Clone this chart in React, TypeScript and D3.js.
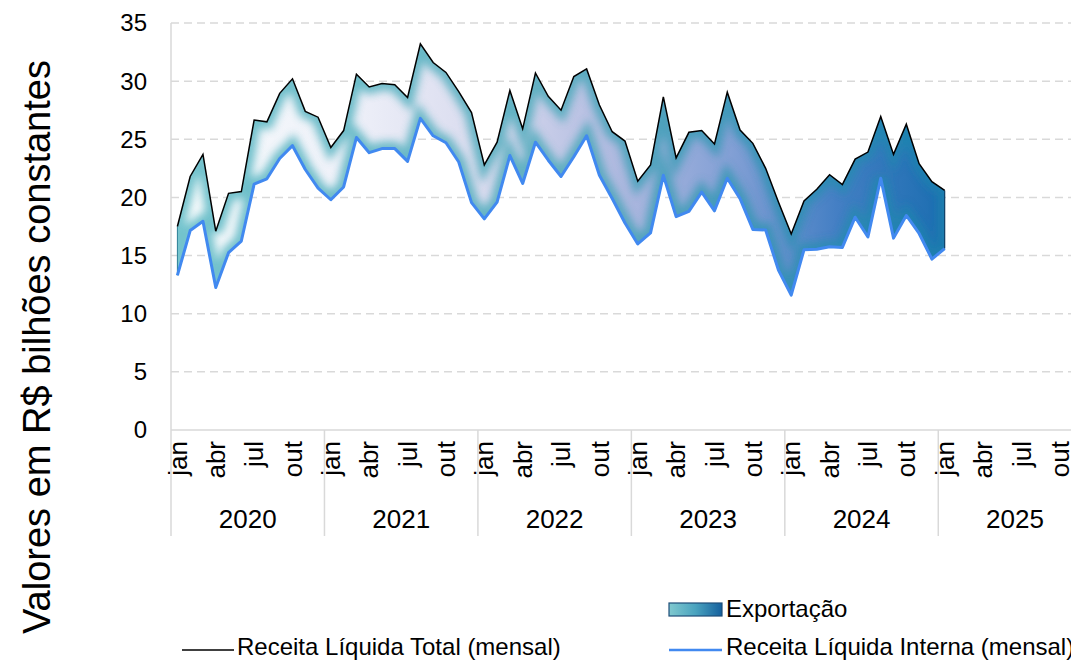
import React from "react";
import * as d3 from "d3";

const years = [2020, 2021, 2022, 2023, 2024, 2025];
const monthNames = ["jan", "fev", "mar", "abr", "mai", "jun", "jul", "ago", "set", "out", "nov", "dez"];
const shownMonths = ["jan", "abr", "jul", "out"];
const yTicks = [0, 5, 10, 15, 20, 25, 30, 35];

// Receita Líquida Total (mensal), jan/2020 .. jan/2025
const receitaTotal = [
  17.5, 21.8, 23.7, 17.1, 20.35, 20.5, 26.65, 26.5, 28.95, 30.2, 27.4, 26.9,
  24.3, 25.75, 30.6, 29.5, 29.8, 29.7, 28.6, 33.2, 31.6, 30.75, 29.1, 27.3,
  22.8, 24.75, 29.2, 25.9, 30.7, 28.7, 27.5, 30.4, 31.05, 27.95, 25.65, 24.85,
  21.4, 22.8, 28.65, 23.4, 25.6, 25.75, 24.6, 29.05, 25.8, 24.65, 22.5, 19.6,
  16.85, 19.7, 20.7, 21.95, 21.1, 23.3, 23.9, 26.95, 23.7, 26.3, 22.9, 21.35,
  20.6,
];

// Receita Líquida Interna (mensal)
const receitaInterna = [
  13.3, 17.15, 17.95, 12.25, 15.25, 16.25, 21.15, 21.6, 23.35, 24.45, 22.4, 20.8,
  19.8, 20.9, 25.15, 23.85, 24.2, 24.2, 23.1, 26.8, 25.3, 24.7, 23.05, 19.55,
  18.15, 19.6, 23.6, 21.2, 24.75, 23.2, 21.8, 23.5, 25.3, 21.9, 19.9, 17.8,
  16.0, 16.95, 21.9, 18.35, 18.8, 20.45, 18.85, 21.65, 19.9, 17.25, 17.2, 13.75,
  11.6, 15.5, 15.55, 15.75, 15.7, 18.3, 16.6, 21.65, 16.5, 18.45, 16.9, 14.7,
  15.6,
];

const W = 1071;
const H = 661;
const plotLeft = 171;
const monthW = 12.788;
const plotTop = 23;
const plotBottom = 430;
const plotRight = 1071;

const FONT = "'Liberation Sans', Arial, sans-serif";

export default function App() {
  const categories: string[] = [];
  years.forEach((y) => monthNames.forEach((m) => categories.push(`${m}-${y}`)));

  const x = d3
    .scaleBand<string>()
    .domain(categories)
    .range([plotLeft, plotLeft + monthW * categories.length])
    .padding(0);
  const bw = x.bandwidth();
  const cx = (i: number) => (x(categories[i]) as number) + bw / 2;

  const y = d3.scaleLinear().domain([0, 35]).range([plotBottom, plotTop]);

  const idx = receitaTotal.map((_, i) => i);
  const area = d3
    .area<number>()
    .x((i) => cx(i))
    .y0((i) => y(receitaInterna[i]))
    .y1((i) => y(receitaTotal[i]))
    .curve(d3.curveLinear);
  const areaPath = area(idx) || "";

  const lineTotal = d3
    .line<number>()
    .x((i) => cx(i))
    .y((i) => y(receitaTotal[i]))(idx) || "";
  const lineInterna = d3
    .line<number>()
    .x((i) => cx(i))
    .y((i) => y(receitaInterna[i]))(idx) || "";

  const x0 = cx(0);
  const x1 = cx(idx.length - 1);

  return (
    <svg
      width={W}
      height={H}
      style={{ position: "absolute", left: 0, top: 0, background: "#fff" }}
      fontFamily={FONT}
    >
      <defs>
        <linearGradient id="fillGrad" gradientUnits="userSpaceOnUse" x1={x0} x2={x1} y1={0} y2={0}>
          <stop offset="0" stopColor="#f6fbfc" />
          <stop offset="0.22" stopColor="#eff1f9" />
          <stop offset="0.42" stopColor="#d6d8ed" />
          <stop offset="0.58" stopColor="#adb8df" />
          <stop offset="0.72" stopColor="#83a0d5" />
          <stop offset="0.86" stopColor="#447fc4" />
          <stop offset="1" stopColor="#1c6eb1" />
        </linearGradient>
        <linearGradient id="edgeGrad" gradientUnits="userSpaceOnUse" x1={x0} x2={x1} y1={0} y2={0}>
          <stop offset="0" stopColor="#5cb9c4" />
          <stop offset="0.5" stopColor="#4eaabb" />
          <stop offset="1" stopColor="#1a80ae" />
        </linearGradient>
        <linearGradient id="legGrad" x1="0" x2="1" y1="0" y2="0">
          <stop offset="0" stopColor="#80c9cf" />
          <stop offset="0.5" stopColor="#4aa3bf" />
          <stop offset="1" stopColor="#15609e" />
        </linearGradient>
        <clipPath id="areaClip">
          <path d={areaPath} />
        </clipPath>
        <filter id="blur" x="-10%" y="-10%" width="120%" height="120%">
          <feGaussianBlur stdDeviation="4" />
        </filter>
      </defs>

      {/* grid lines */}
      {yTicks.map((t) =>
        t === 0 ? null : (
          <line
            key={t}
            x1={plotLeft}
            x2={plotRight}
            y1={y(t)}
            y2={y(t)}
            stroke="#d9d9d9"
            strokeWidth={1.5}
            strokeDasharray="8,5"
          />
        )
      )}
      {/* axes */}
      <line x1={plotLeft} x2={plotLeft} y1={plotTop} y2={plotBottom} stroke="#d9d9d9" strokeWidth={1.5} />
      <line x1={plotLeft} x2={plotRight} y1={plotBottom} y2={plotBottom} stroke="#d9d9d9" strokeWidth={1.5} />

      {/* y tick labels */}
      {yTicks.map((t) => (
        <text key={t} x={147} y={y(t)} dy="0.35em" textAnchor="end" fontSize={24} fill="#000">
          {t}
        </text>
      ))}

      {/* area */}
      <path d={areaPath} fill="url(#fillGrad)" />
      <g clipPath="url(#areaClip)">
        <path d={areaPath} fill="none" stroke="url(#edgeGrad)" strokeWidth={14} filter="url(#blur)" opacity={0.85} />
      </g>
      <line x1={x0} x2={x0} y1={y(receitaTotal[0])} y2={y(receitaInterna[0])} stroke="#2b7f95" strokeWidth={1} />
      <line
        x1={x1}
        x2={x1}
        y1={y(receitaTotal[idx.length - 1])}
        y2={y(receitaInterna[idx.length - 1])}
        stroke="#0f3f66"
        strokeWidth={1.2}
      />

      {/* lines */}
      <path d={lineInterna} fill="none" stroke="#4189f0" strokeWidth={3} strokeLinejoin="round" />
      <path d={lineTotal} fill="none" stroke="#000" strokeWidth={1.5} strokeLinejoin="miter" />

      {/* x axis: month labels */}
      {categories.map((c, i) => {
        const m = c.split("-")[0];
        if (!shownMonths.includes(m)) return null;
        const xx = cx(i);
        return (
          <text
            key={c}
            transform={`translate(${xx},441) rotate(-90)`}
            textAnchor="end"
            dy="0.35em"
            fontSize={26}
            fill="#000"
          >
            {m}
          </text>
        );
      })}
      {/* year separators */}
      {years.map((yr) => {
        const xs = x(`jan-${yr}`) as number;
        return <line key={yr} x1={xs} x2={xs} y1={plotBottom} y2={536} stroke="#d9d9d9" strokeWidth={1.5} />;
      })}
      {years.map((yr) => {
        const xs = x(`jan-${yr}`) as number;
        return (
          <text key={yr} x={xs + (bw * 12) / 2} y={528} textAnchor="middle" fontSize={26} fill="#000">
            {yr}
          </text>
        );
      })}

      {/* y axis title */}
      <text transform="translate(50,347) rotate(-90)" textAnchor="middle" fontSize={38} fill="#000">
        Valores em R$ bilhões constantes
      </text>

      {/* legend */}
      <rect x={669} y={603} width={53} height={13} fill="url(#legGrad)" stroke="#1f4e79" strokeWidth={1.2} />
      <text x={726} y={617} fontSize={24} fill="#000">
        Exportação
      </text>
      <line x1={182} x2={234} y1={650} y2={650} stroke="#000" strokeWidth={1.5} />
      <text x={237} y={655} fontSize={24} fill="#000">
        Receita Líquida Total (mensal)
      </text>
      <line x1={669} x2={722} y1={650} y2={650} stroke="#4189f0" strokeWidth={2.5} />
      <text x={726} y={655} fontSize={24} fill="#000">
        Receita Líquida Interna (mensal)
      </text>
    </svg>
  );
}
